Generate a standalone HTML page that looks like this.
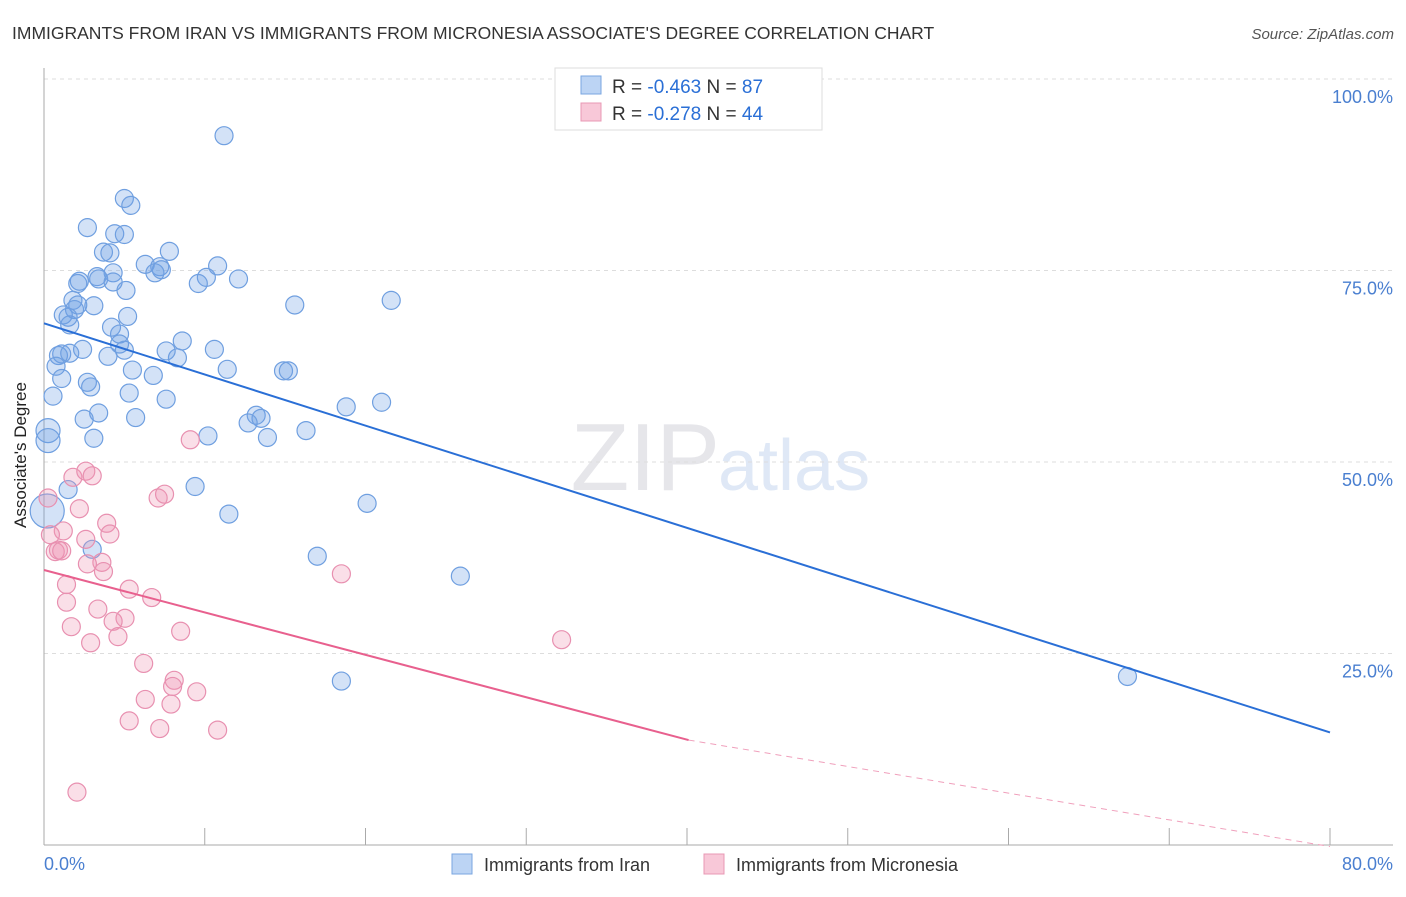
<!DOCTYPE html>
<html><head><meta charset="utf-8"><style>
body{margin:0;background:#fff;font-family:"Liberation Sans",sans-serif}
svg text{font-family:"Liberation Sans",sans-serif}
</style></head><body>
<svg id="c" width="1406" height="892" xmlns="http://www.w3.org/2000/svg">
<text x="12" y="39" font-size="17.5" fill="#333">IMMIGRANTS FROM IRAN VS IMMIGRANTS FROM MICRONESIA ASSOCIATE'S DEGREE CORRELATION CHART</text>
<text x="1394" y="39" font-size="15" fill="#555" font-style="italic" text-anchor="end">Source: ZipAtlas.com</text>
<text x="720" y="490" font-size="96" fill="#e6e6ea" text-anchor="end" font-family="Liberation Serif">ZIP</text>
<text x="718" y="490" font-size="72" fill="#dfe8f6">atlas</text>
<g id="grid"></g>
<line x1="44" y1="68" x2="44" y2="845" stroke="#aaa"/>
<line x1="44" y1="845" x2="1393" y2="845" stroke="#aaa"/>
<text x="26" y="455" font-size="17" fill="#222" text-anchor="middle" transform="rotate(-90 26 455)">Associate's Degree</text>
<text x="44" y="870" font-size="18" fill="#4a7fd0">0.0%</text>
<text x="1393" y="870" font-size="18" fill="#4a7fd0" text-anchor="end">80.0%</text>
<g id="pts"></g>
<g id="lines"></g>
<g>
<rect x="555" y="68" width="267" height="62" fill="#fff" stroke="#ddd"/>
<rect x="581" y="76" width="20" height="18" fill="#bcd4f4" stroke="#7aa6e0"/>
<rect x="581" y="103" width="20" height="18" fill="#f8c8d8" stroke="#e898b4"/>
<text x="612" y="93" font-size="19" fill="#333">R = <tspan fill="#2a6fd6">-0.463</tspan>   N = <tspan fill="#2a6fd6">87</tspan></text>
<text x="612" y="120" font-size="19" fill="#333">R = <tspan fill="#2a6fd6">-0.278</tspan>   N = <tspan fill="#2a6fd6">44</tspan></text>
</g>
<g>
<rect x="452" y="854" width="20" height="20" fill="#bcd4f4" stroke="#7aa6e0"/>
<text x="484" y="871" font-size="18" fill="#333">Immigrants from Iran</text>
<rect x="704" y="854" width="20" height="20" fill="#f8c8d8" stroke="#e898b4"/>
<text x="736" y="871" font-size="18" fill="#333">Immigrants from Micronesia</text>
</g>
</svg>
<script>
const yTicks=[25,50,75,100];
const yTickLabels=["25.0%","50.0%","75.0%","100.0%"];
const xTicks=[0,10,20,30,40,50,60,70,80];
const iranX=[11.2,5,5.4,2.7,4.4,5,3.7,4.1,7.8,6.3,7.2,10.8,6.9,7.3,4.3,3.3,2.2,2.1,3.4,10.1,12.1,9.6,4.3,5.1,1.8,21.6,2.1,3.1,15.6,1.9,1.2,1.5,5.2,1.6,4.2,4.7,8.6,2.4,4.7,5.0,1.1,0.9,1.6,3.98,10.6,8.3,7.6,0.75,5.5,11.4,14.9,15.2,1.1,6.8,2.7,2.9,5.3,0.56,7.6,21,18.8,3.4,2.5,5.7,13.2,13.5,12.7,16.3,0.25,10.2,3.1,13.9,0.25,9.4,1.5,20.1,11.5,0.2,3.0,17.0,25.9,18.5,67.4];
const iranY=[92.6,84.4,83.5,80.6,79.8,79.7,77.4,77.3,77.5,75.8,75.5,75.6,74.7,75.1,74.7,74.2,73.6,73.3,73.9,74.1,73.9,73.3,73.5,72.4,71.1,71.1,70.5,70.4,70.5,69.9,69.2,68.9,69.0,67.9,67.6,66.7,65.8,64.7,65.4,64.6,64.1,63.9,64.2,63.8,64.7,63.6,64.5,62.5,62.0,62.1,61.9,61.9,60.9,61.3,60.4,59.8,59.0,58.6,58.2,57.8,57.2,56.4,55.6,55.8,56.1,55.7,55.1,54.1,54.1,53.4,53.1,53.2,52.8,46.8,46.4,44.6,43.2,43.6,38.6,37.7,35.1,21.4,22.0];
const iranR=[9,9,9,9,9,9,9,9,9,9,9,9,9,9,9,9,9,9,9,9,9,9,9,9,9,9,9,9,9,9,9,9,9,9,9,9,9,9,9,9,9,9,9,9,9,9,9,9,9,9,9,9,9,9,9,9,9,9,9,9,9,9,9,9,9,9,9,9,12,9,9,9,12,9,9,9,9,17,9,9,9,9,9];
const micX=[0.25,1.8,2.6,3.0,2.2,9.1,7.1,7.5,1.2,0.4,3.9,4.1,2.6,0.9,0.7,1.1,3.6,2.7,3.7,1.4,18.5,5.3,6.7,1.4,3.35,5.04,4.3,1.7,8.5,2.9,4.6,32.2,6.2,8.1,8.0,9.5,6.3,7.9,5.3,7.2,10.8,2.05];
const micY=[45.3,48.0,48.8,48.2,43.9,52.9,45.3,45.8,41.0,40.5,42.0,40.6,39.9,38.5,38.3,38.4,36.9,36.7,35.7,34.0,35.4,33.4,32.3,31.7,30.8,29.6,29.2,28.5,27.9,26.4,27.2,26.8,23.7,21.5,20.7,20.0,19.0,18.4,16.2,15.2,15.0,6.9];
const blueFit=[0,68.1,80,14.7];
const pinkFit=[0,35.9,40.1,13.7,80,-0.2];
const X0=44,X1=1330,Y0=845,Y100=79;
const sx=v=>X0+(X1-X0)*v/80, sy=v=>Y0-(Y0-Y100)*v/100;
const NS="http://www.w3.org/2000/svg";
function mk(t,a,p){const e=document.createElementNS(NS,t);for(const k in a)e.setAttribute(k,a[k]);p.appendChild(e);return e;}
const grid=document.getElementById('grid');
yTicks.forEach((v,i)=>{
 const l=mk('line',{x1:44,x2:1393,y1:sy(v),y2:sy(v),stroke:'#ddd','stroke-dasharray':'4,4'},grid);
 
 
 const t=mk('text',{x:1393,y:sy(v)+24,'font-size':18,fill:'#4a7fd0','text-anchor':'end'},grid);
 t.textContent=yTickLabels[i];
 
 
});
xTicks.forEach(v=>{
 const l=mk('line',{x1:sx(v),x2:sx(v),y1:828,y2:845,stroke:'#aaa'},grid);
 
 
});
const pts=document.getElementById('pts');
iranX.forEach((x,i)=>{
 const c=mk('circle',{cx:sx(x),cy:sy(iranY[i]),r:iranR[i],fill:'rgba(110,160,230,0.3)',stroke:'#6f9fe0','stroke-width':1.2},pts);
 
 
});
micX.forEach((x,i)=>{
 const c=mk('circle',{cx:sx(x),cy:sy(micY[i]),r:9,fill:'rgba(240,150,180,0.3)',stroke:'#e890b0','stroke-width':1.2},pts);
 
 
});
const lines=document.getElementById('lines');
const b=mk('line',{x1:sx(blueFit[0]),y1:sy(blueFit[1]),x2:sx(blueFit[2]),y2:sy(blueFit[3]),stroke:'#2a6fd6','stroke-width':2},lines);


const p=mk('line',{x1:sx(pinkFit[0]),y1:sy(pinkFit[1]),x2:sx(pinkFit[2]),y2:sy(pinkFit[3]),stroke:'#e8608e','stroke-width':2},lines);


const pd=mk('line',{x1:sx(pinkFit[2]),y1:sy(pinkFit[3]),x2:sx(pinkFit[4]),y2:sy(pinkFit[5]),stroke:'#f0a0bc','stroke-width':1,'stroke-dasharray':'6,5'},lines);


</script>
</body></html>
